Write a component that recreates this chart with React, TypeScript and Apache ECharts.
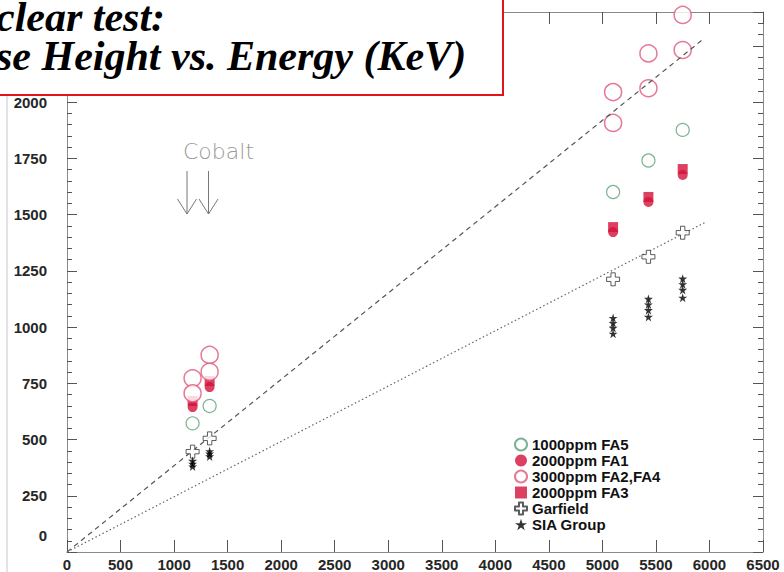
import React, { useEffect, useRef } from 'react';
import * as echarts from 'echarts';

// ---- data ----
const energies = [1173, 1332, 5100, 5430, 5750];
const fa5 = [572, 649, 1600, 1740, 1876];
const fa1 = [644, 733, 1422, 1556, 1676];
const fa2 = [705, 801, 1907, 2061, 2231];
const fa4 = [772, 876, 2044, 2216, 2387];
const fa3 = [671, 760, 1444, 1578, 1702];
const garfield = [446, 505, 1212, 1312, 1419];
const siaGroup = [
  [405, 392, 380],
  [448, 437, 425],
  [1040, 1018, 996, 970],
  [1125, 1100, 1075, 1045],
  [1215, 1190, 1165, 1130],
];
const dashedFit = [[0, 0], [5925, 2273]];
const dottedFit = [[0, 0], [5972, 1468]];
const xRange = { min: 0, max: 6500, step: 500 };
const yRange = { min: 0, max: 2400, step: 250 };
const seriesNames = ['1000ppm FA5', '2000ppm FA1', '3000ppm FA2,FA4', '2000ppm FA3', 'Garfield', 'SIA Group'];
const titleLines = ['clear test:', 'se Height vs. Energy (KeV)'];
const annotation = 'Cobalt';

const pair = (arr: number[]) => energies.map((e, i) => [e, arr[i]]);

const STAR = 'path://M50,0L61.2,34.5L97.6,34.5L68.2,55.9L79.4,90.5L50,69.1L20.6,90.5L31.8,55.9L2.4,34.5L38.8,34.5Z';
const PLUS = 'path://M4,0H8V4H12V8H8V12H4V8H0V4H4Z';

const RED = '#d4113a';
const PINK = '#e0587c';
const GREEN = '#5a9f78';
const LABEL_FONT = 'Liberation Sans';

export default function App() {
  const ref = useRef<HTMLDivElement>(null);
  useEffect(() => {
    document.body.style.margin = '0';
    const chart = echarts.init(ref.current!, undefined, { renderer: 'svg' });
    const labelStyle = { fontFamily: LABEL_FONT, fontWeight: 'bold' as const, fontSize: 15, color: '#262626' };
    const tickStyle = { color: '#555', width: 1 };
    const lineAxis = { lineStyle: { color: '#8a8a8a', width: 1 }, onZero: false };
    chart.setOption({
      animation: false,
      backgroundColor: '#fff',
      grid: { left: 67, right: 21, top: 12, bottom: 20, containLabel: false, outerBoundsMode: 'none' },
      legend: {
        orient: 'vertical',
        left: 509,
        top: 432,
        itemWidth: 12,
        itemHeight: 12,
        itemGap: 1,
        selectedMode: false,
        data: seriesNames,
        textStyle: { fontFamily: LABEL_FONT, fontWeight: 'bold', fontSize: 15, color: '#111', lineHeight: 15 },
      },
      xAxis: [
        {
          type: 'value', min: xRange.min, max: xRange.max, interval: xRange.step, position: 'bottom',
          axisLine: lineAxis,
          axisTick: { inside: true, length: 12, lineStyle: tickStyle },
          axisLabel: { ...labelStyle, margin: 5, formatter: (v: number) => String(v) },
          splitLine: { show: false },
        },
        {
          type: 'value', min: xRange.min, max: xRange.max, interval: xRange.step, position: 'top',
          axisLine: lineAxis,
          axisTick: { inside: true, length: 12, lineStyle: tickStyle },
          axisLabel: { show: false },
          splitLine: { show: false },
        },
      ],
      yAxis: [
        {
          type: 'value', min: yRange.min, max: yRange.max, interval: yRange.step, position: 'left',
          axisLine: { ...lineAxis, show: true },
          axisTick: { inside: true, length: 10, lineStyle: tickStyle },
          minorTick: { show: true, splitNumber: 5, length: 5, lineStyle: tickStyle },
          axisLabel: {
            ...labelStyle,
            margin: 20,
            formatter: (v: number) => (v === 0 ? '{z|0}' : v > 2000 ? '' : String(v)),
            rich: { z: { ...labelStyle, padding: [0, 0, 34, 0] } },
          },
          splitLine: { show: false },
        },
        {
          type: 'value', min: yRange.min, max: yRange.max, interval: yRange.step, position: 'right',
          axisLine: { ...lineAxis, show: true },
          axisTick: { inside: true, length: 10, lineStyle: tickStyle },
          minorTick: { show: true, splitNumber: 5, length: 5, lineStyle: tickStyle },
          axisLabel: { show: false },
          splitLine: { show: false },
        },
      ],
      series: [
        {
          name: seriesNames[0], type: 'scatter', data: pair(fa5), symbol: 'circle', symbolSize: 13, z: 2,
          itemStyle: { color: 'rgba(255,255,255,0)', borderColor: GREEN, borderWidth: 1.2 },
        },
        {
          name: seriesNames[3], type: 'scatter', data: pair(fa3), symbol: 'rect', symbolSize: 10, z: 2,
          itemStyle: { color: RED },
        },
        {
          name: seriesNames[1], type: 'scatter', data: pair(fa1), symbol: 'circle', symbolSize: 10, z: 2,
          itemStyle: { color: RED },
        },
        {
          name: seriesNames[2], type: 'scatter', data: [...pair(fa4), ...pair(fa2)], symbol: 'circle', symbolSize: 17, z: 3,
          itemStyle: { color: '#fff', borderColor: PINK, borderWidth: 1.5 },
        },
        {
          type: 'line', data: dashedFit, symbol: 'none', silent: true, z: 4,
          lineStyle: { color: '#555', width: 1.2, type: [5, 4] },
        },
        {
          type: 'line', data: dottedFit, symbol: 'none', silent: true, z: 4,
          lineStyle: { color: '#666', width: 1.2, type: [1.5, 2.5] },
        },
        {
          name: seriesNames[4], type: 'scatter', data: pair(garfield), symbol: PLUS, symbolSize: 13, z: 5,
          itemStyle: { color: '#fff', borderColor: '#333', borderWidth: 1, borderJoin: 'round' },
        },
        {
          name: seriesNames[5], type: 'scatter',
          data: siaGroup.flatMap((vals, i) => vals.map((v) => [energies[i], v])),
          symbol: STAR, symbolSize: 9, z: 5,
          itemStyle: { color: '#000' },
        },
      ],
      graphic: [
        { type: 'line', z: 1, shape: { x1: 7, y1: 95, x2: 7, y2: 572 }, style: { stroke: '#c8c8c8', lineWidth: 1 } },
        {
          type: 'rect', z: 100, shape: { x: -10, y: -10, width: 513, height: 105 },
          style: { fill: '#fff', stroke: '#e3121b', lineWidth: 2 },
        },
        {
          type: 'text', z: 101, x: -4, y: -3,
          style: {
            text: titleLines.join('\n'), fontFamily: 'Liberation Serif', fontWeight: 'bold', fontStyle: 'italic',
            fontSize: 42, lineHeight: 39, fill: '#000', verticalAlign: 'top',
          },
        },
        {
          type: 'text', z: 50, x: 183, y: 151,
          style: { text: annotation, fontFamily: 'DejaVu Sans', fontWeight: 200, fontSize: 22, fill: '#999', align: 'left', verticalAlign: 'middle' },
        },
        { type: 'line', z: 50, shape: { x1: 187, y1: 171, x2: 187, y2: 214 }, style: { stroke: '#777', lineWidth: 1 } },
        { type: 'polyline', z: 50, shape: { points: [[177.5, 199], [187, 214], [196.5, 199]] }, style: { stroke: '#777', lineWidth: 1, fill: 'none' } },
        { type: 'line', z: 50, shape: { x1: 208.5, y1: 171, x2: 208.5, y2: 214 }, style: { stroke: '#777', lineWidth: 1 } },
        { type: 'polyline', z: 50, shape: { points: [[199, 199], [208.5, 214], [218, 199]] }, style: { stroke: '#777', lineWidth: 1, fill: 'none' } },
      ],
    });
    return () => chart.dispose();
  }, []);
  return <div ref={ref} style={{ width: 784, height: 572 }} />;
}
